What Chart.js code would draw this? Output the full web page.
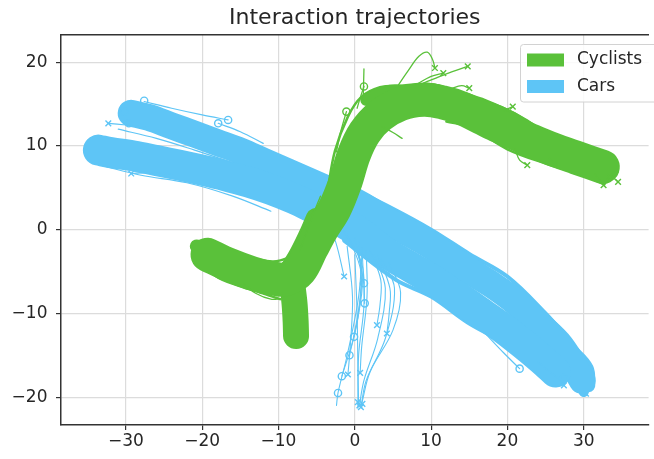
<!DOCTYPE html>
<html><head><meta charset="utf-8">
<script src="https://cdn.jsdelivr.net/npm/chart.js@4/dist/chart.umd.min.js"></script>
<style>html,body{margin:0;padding:0;background:#fff;}#wrap{width:654px;height:459px;}</style>
</head><body><div id="wrap"><canvas id="c" width="654" height="459"></canvas></div>
<script>
// ---- tick labels / categories ----
const xTicks = [-30, -20, -10, 0, 10, 20, 30];
const yTicks = [-20, -10, 0, 10, 20];
const seriesNames = ['Cyclists', 'Cars'];
const seriesColors = ['#5ac13a', '#5ec5f6'];

// ---- Cars: dense bundles (x, y) ----
const carBandA = [[-33.6,9.5],[-32,9.2],[-29,8.8],[-26,8.25],[-23,7.7],[-20,7.1],[-17,6.45],[-14,5.7],[-11,4.8],[-8,3.7],[-5,2.4],[-2,1.1],[1,-0.6],[4,-2.7],[7,-4.3],[10,-5.9],[13,-7.7],[16,-9.6],[19,-11.5],[22,-13.6],[24.5,-15.5],[26.3,-17.0]];
const carBandB = [[-29.3,13.9],[-27,13.4],[-24,12.4],[-21,11.4],[-18,10.4],[-15,9.4],[-12,8.2],[-9,7.0],[-6,5.8],[-3,4.6],[0,3.4],[3,1.8],[6,0.1],[9,-1.4],[12,-3.1],[15,-4.9],[18,-6.6],[21,-8.6],[24,-11.2],[27,-13.9],[29.8,-18.0]];
const carFanEnd1 = [[26,-12.6],[28.5,-14.6],[30.4,-16.6],[30.6,-18.6]];
const carFanEnd2 = [[27,-14.8],[29,-17.5],[30,-19.4]];
const carEdgeTop = [[-1,5.2],[5,2.5],[10,0.0],[15,-2.9],[20,-5.6],[25,-10.0],[28.5,-13.6]];
const carEdgeBottom = [[-1.4,-1.3],[5.4,-6.0],[10,-8.0],[14.8,-11.1],[20,-13.8],[23.5,-16.6]];
// ---- Cars: individual thin tracks ----
const carThinTracks = [
  [[-27.6,15.3],[-24,14.5],[-20,13.7],[-16.6,13.1]],
  [[-32.3,12.7],[-30,12.5],[-27,12.2]],
  [[-29.3,6.7],[-27,6.8],[-24,6.6]],
  [[-17.9,12.7],[-15,11.7],[-12,10.3]],
  [[17,-12.3],[19.5,-14.7],[21.6,-16.6]],
  [[24,-15.8],[26,-17.3],[27.4,-18.3]],
  [[-33,7.6],[-28,6.5],[-22,5.6],[-16,4.0],[-11,2.2]],
  [[-31,12.0],[-26,10.9],[-21,9.5],[-16,8.0]]
];
const carTurnTracks = [
  [[-4,2],[-2.5,-1.5],[-1.4,-5.6]],
  [[-2,0.5],[0.4,-3],[1.2,-6.4]],
  [[-1.5,0],[0.9,-4],[1.3,-8.8]],
  [[-1,-0.5],[0.8,-5],[0.5,-10],[-0.1,-12.8]],
  [[0,-1],[1,-6],[0.3,-11],[-0.7,-15]],
  [[0.5,-1.5],[0.8,-7],[-0.2,-13],[-1.7,-17.5]],
  [[1,-2],[0.5,-8],[-1,-15],[-2.2,-19.5],[-2.4,-21]],
  [[2,-2.5],[3.4,-6],[3.3,-9],[2.9,-11.4]],
  [[3,-3],[4.6,-7],[4.5,-10],[4.2,-12.4]],
  [[1.5,-2.5],[1.6,-8],[0.9,-14],[0.7,-17.1]],
  [[-1,-2],[-0.3,-8],[-0.6,-14],[-0.9,-17.3]],
  [[2.5,-3],[4,-7],[3,-13],[1.2,-18],[0.6,-21]],
  [[3.5,-3.5],[5.2,-7],[4,-13],[1.5,-18],[0.8,-21.2]],
  [[4.5,-4],[6,-7.5],[5,-12],[2,-17],[0.9,-20.8]],
  [[1,-3],[1.2,-9],[0.5,-15],[0.4,-21.3]],
  [[0,-3],[0.3,-10],[0.4,-16],[0.5,-21]]
];
const carStarts = [[-27.6,15.4],[-30.2,14.1],[-29.6,12.7],[-16.6,13.1],[-17.9,12.7],[1.2,-6.4],[1.3,-8.8],[-0.1,-12.8],[-0.7,-15],[-1.7,-17.5],[-2.2,-19.5],[21.6,-16.6],[27.4,-17.7]];
const carEnds = [[-32.3,12.7],[-29.3,6.7],[-1.4,-5.6],[2.9,-11.4],[4.2,-12.4],[0.7,-17.1],[-0.9,-17.3],[0.6,-21],[0.8,-21.2],[0.4,-20.6],[1.0,-20.8],[27.4,-18.6],[30.3,-19.6]];

// ---- Cyclists: dense bundles ----
const cycCore = [[-19.3,-3.0],[-16.5,-4.2],[-13.5,-5.2],[-11,-5.8],[-9,-5.9],[-7.2,-4.9],[-5.7,-2.3],[-4.35,0],[-2.65,2.5],[-1.3,5.5],[-0.1,9],[1.3,11.6],[3.3,13.6],[6,15.0],[9,15.5],[11.5,15.2],[14,14.5],[16.5,13.4],[19,12.3],[21.5,11.3],[24,10.3],[26.5,9.4],[29,8.6],[32.5,7.5]];
const cycTail = [[-8.2,-6.5],[-7.9,-8.8],[-7.75,-11],[-7.7,-12.7]];
const cycJunction = [[-10,-6.8],[-7.6,-3.4],[-6,-0.5],[-5.1,1.4]];
const cycUpper = [[1.5,15.5],[4,16.5],[7,16.6],[10,16.8],[13,16.0],[16,15.1],[19,14.1],[22,12.7],[25,10.9],[28,9.7]];
const cycLeftTip = [[-20.7,-2.0],[-18.5,-3.0],[-16.5,-3.9]];
const cycRightTip = [[30,8.1],[33.6,7.2]];
const cycEdgeTracks = [
  [[14.7,16.2],[17,15.5],[20,14.3],[22,13.3],[25,11.6],[28,10.4],[31,9.4],[34.2,8.2]],
  [[12,12.9],[15,12.3],[20,9.6],[25,7.9],[30,6.5],[32.7,5.4]],
  [[-20.9,-2.8],[-18.3,-5.5],[-14.9,-6.8],[-12.4,-7.5],[-9.8,-8.3]],
  [[-21.2,-1.5],[-19.2,-1.3],[-14.9,-3.0],[-10.7,-3.8],[-7.3,-2.9]],
  [[-3.6,4.5],[-2.6,9.4],[-0.9,13.5],[0.8,15.8],[3.3,17.0],[6.2,17.2],[9.7,17.4],[13.1,16.6]]
];
const cycThinTracks = [
  [[-2.4,9.3],[-1.9,11.5],[-1.1,14.1]],
  [[0.3,14.5],[0.8,16],[1.2,17.1]],
  [[1.1,15.5],[1.2,19.2]],
  [[5.5,17],[7,19],[8.4,20.7],[9.5,21.2],[10.2,20.3],[10.5,19.3]],
  [[8,17.3],[10,18.3],[11.6,18.7]],
  [[9,17.5],[12,18.6],[14.8,19.5]],
  [[12.5,16.8],[14,17.2],[15,16.9]],
  [[19.5,14.2],[20.7,14.7]],
  [[21,9.6],[21.6,8.3],[22.6,7.7]],
  [[25.5,8.5],[26.2,7.9]],
  [[31.5,6.6],[32.6,5.3]],
  [[33.5,6.5],[34.5,5.7]],
  [[3.6,12.3],[5.0,11.6],[6.2,10.9]],
  [[-14.5,-6.5],[-13,-7.6],[-11,-8.3],[-9.5,-8.2]],
  [[-4.5,4],[-5.6,1.5],[-6.6,-1],[-7.2,-2.5]]
];
const cycStarts = [[-1.1,14.1],[1.2,17.1]];
const cycEnds = [[10.5,19.3],[11.6,18.7],[14.8,19.5],[15,16.9],[20.7,14.7],[22.6,7.7],[26.2,7.9],[32.6,5.3],[34.5,5.7],[33.4,6.3]];

// ---- dataset builders ----
const FONT = 'DejaVu Sans';
const toXY = pts => pts.map(p => ({x: p[0], y: p[1]}));
function track(pts, color, width, order) {
  return {data: toXY(pts), showLine: true, borderColor: color, backgroundColor: color,
    borderWidth: width, pointRadius: 0, pointHoverRadius: 0, tension: 0.35,
    borderCapStyle: 'round', borderJoinStyle: 'round', fill: false, order: order};
}
function marks(pts, color, style, r, order) {
  return {data: toXY(pts), showLine: false, pointStyle: style, pointRadius: r,
    pointBorderWidth: 1.4, pointBorderColor: color, pointBackgroundColor: 'rgba(0,0,0,0)', order: order};
}
const G = seriesColors[0], B = seriesColors[1];
const datasets = [];
// cars (drawn underneath)
datasets.push(track(carBandA, B, 31, 5));
datasets.push(track(carBandB, B, 27, 5));
datasets.push(track(carFanEnd1, B, 14, 5));
datasets.push(track(carFanEnd2, B, 10, 5));
datasets.push(track(carEdgeTop, B, 4, 5));
datasets.push(track(carEdgeBottom, B, 4, 5));
carThinTracks.forEach(t => datasets.push(track(t, B, 1.2, 4)));
carTurnTracks.forEach(t => datasets.push(track(t, B, 1.1, 4)));
datasets.push(marks(carStarts, B, 'circle', 3.6, 3));
datasets.push(marks(carEnds, B, 'crossRot', 4, 3));
// cyclists (on top)
datasets.push(track(cycCore, G, 34, 2));
datasets.push(track(cycTail, G, 26, 2));
datasets.push(track(cycJunction, G, 20, 2));
datasets.push(track(cycUpper, G, 12, 2));
datasets.push(track(cycLeftTip, G, 14, 2));
datasets.push(track(cycRightTip, G, 16, 2));
cycEdgeTracks.forEach(t => datasets.push(track(t, G, 2.5, 2)));
cycThinTracks.forEach(t => datasets.push(track(t, G, 1.3, 1)));
datasets.push(marks(cycStarts, G, 'circle', 3.6, 0));
datasets.push(marks(cycEnds, G, 'crossRot', 4, 0));

const fmt = v => (v < 0 ? '\u2212' + Math.abs(v) : String(v));

const boxLegend = {
  id: 'boxLegend',
  afterDraw(chart) {
    const ctx = chart.ctx;
    ctx.save();
    ctx.beginPath();
    const x = 520.5, y = 44.5, w = 150, h = 57.5, r = 3;
    ctx.moveTo(x + r, y); ctx.lineTo(x + w, y); ctx.lineTo(x + w, y + h); ctx.lineTo(x + r, y + h);
    ctx.arcTo(x, y + h, x, y + h - r, r); ctx.lineTo(x, y + r); ctx.arcTo(x, y, x + r, y, r);
    ctx.closePath();
    ctx.fillStyle = 'rgba(255,255,255,0.85)'; ctx.fill();
    ctx.strokeStyle = '#d2d2d2'; ctx.lineWidth = 1; ctx.stroke();
    ctx.font = '17px "' + FONT + '"';
    ctx.textBaseline = 'middle';
    seriesNames.forEach((name, i) => {
      const cy = 60 + i * 26.5;
      ctx.fillStyle = seriesColors[i];
      ctx.fillRect(527, cy - 6.5, 37, 13);
      ctx.fillStyle = '#262626';
      ctx.fillText(name, 577, cy);
    });
    ctx.restore();
  }
};

new Chart(document.getElementById('c'), {
  type: 'scatter',
  data: {datasets},
  plugins: [boxLegend],
  options: {
    responsive: false, animation: false, devicePixelRatio: 1,
    layout: {padding: {top: 0, left: 0, right: -13, bottom: 0}},
    plugins: {
      legend: {display: false},
      tooltip: {enabled: false},
      title: {display: true, text: 'Interaction trajectories', fullSize: false,
        font: {family: FONT, size: 22, weight: 'normal'}, color: '#262626',
        padding: {top: 5, bottom: 2.9}}
    },
    scales: {
      x: {type: 'linear', position: 'bottom', min: -38.5, max: 38.5,
        afterBuildTicks: s => { s.ticks = xTicks.map(v => ({value: v})); },
        afterFit: s => { s.height = 34; },
        grid: {color: '#dcdcdc', lineWidth: 1.2, tickLength: 5, tickColor: '#333', tickWidth: 1.2},
        border: {color: '#333', width: 1.5},
        ticks: {font: {family: FONT, size: 17}, color: '#262626', padding: 1, maxRotation: 0, autoSkip: false, callback: fmt}},
      x2: {type: 'linear', position: 'top', min: -38.5, max: 38.5,
        afterFit: s => { s.height = 0; },
        grid: {display: false, drawTicks: false},
        ticks: {display: false},
        border: {display: true, color: '#333', width: 1.5}},
      y: {type: 'linear', position: 'left', min: -23.33, max: 23.33,
        afterBuildTicks: s => { s.ticks = yTicks.map(v => ({value: v})); },
        afterFit: s => { s.width = 61; },
        grid: {color: '#dcdcdc', lineWidth: 1.2, tickLength: 5, tickColor: '#333', tickWidth: 1.2},
        border: {color: '#333', width: 1.5},
        ticks: {font: {family: FONT, size: 17}, color: '#262626', padding: 8.5, autoSkip: false, callback: fmt}}
    }
  }
});
</script>
</body></html>
